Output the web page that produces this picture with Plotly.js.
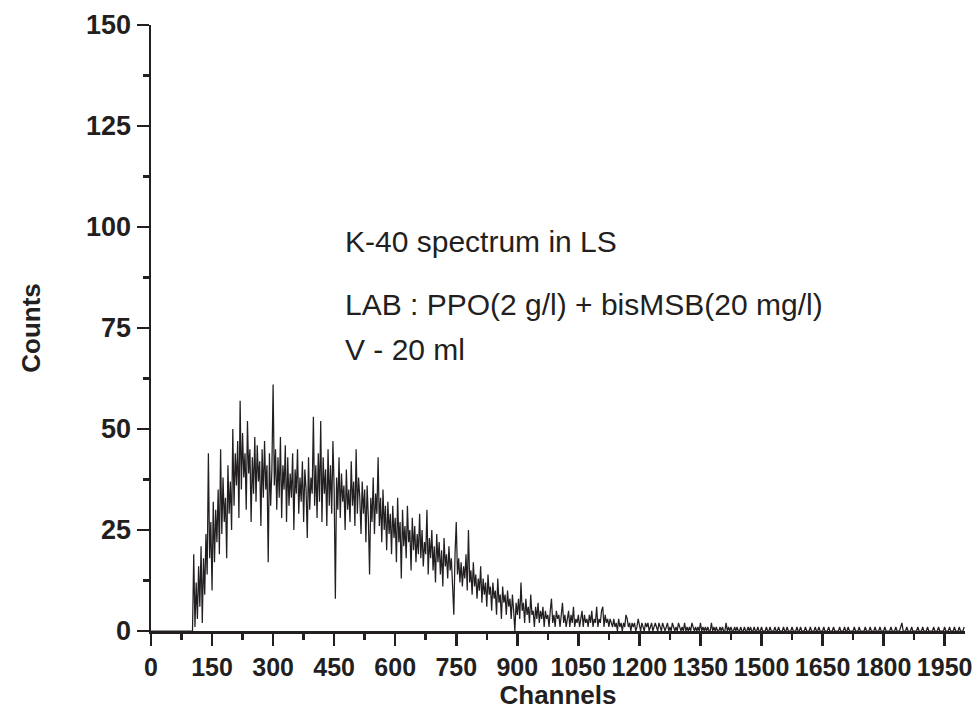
<!DOCTYPE html>
<html>
<head>
<meta charset="utf-8">
<script src="https://cdn.plot.ly/plotly-3.0.1.min.js"></script>
<style>html,body{margin:0;padding:0;background:#fff;}#chart{width:977px;height:721px;}</style>
</head>
<body>
<div id="chart"></div>
<script>
// Channel grid: every 3rd channel, starting at 0
var channelStep = 3;
// Counts (one value per 3 channels)
var countsLead = [0,0,0,0,0,0,0,0,0,0,0,0,0,0,0,0,0,0,0,0,0,0,0,0,0,0,0,0,0,0,0,0,0,0,0]; // ch 0-102
var countsRise = [
  19,1,12,3,16,6,21,2,18,9,24,14,44,18,27,10,32,17,30,22,        // ch 105-162
  35,19,45,24,38,27,33,18,41,29,37,25,50,31,44,36,47,28,57,35,   // ch 165-222
  49,38,44,30,52,39,45,27,43,34,48,32,46,37,42,26,45,33,47,35,   // ch 225-282
  41,17,44,31,40,61,36,45,30,43,33,48,28,41,35,46,27,43,31,39,   // ch 285-342
  33,44,25,40,34,45,29,38,32,42,27,40,35,23,43,30,38,34,53,31,   // ch 345-402
  41,28,44,32,52,27,43,34,40,26,45,31,41,29,47,35,8,38,30,43     // ch 405-462
];
var countsFall = [
  28,39,32,36,25,40,30,35,27,42,31,37,26,45,29,38,33,24,37,29,   // ch 465-522
  35,22,36,28,14,33,27,38,24,34,29,43,26,33,22,35,25,31,20,32,   // ch 525-582
  24,29,19,31,23,28,17,33,22,27,13,30,21,26,18,31,22,25,15,28,   // ch 585-642
  20,26,17,24,19,29,18,25,16,22,19,30,14,23,18,25,15,21,12,24,   // ch 645-702
  17,22,14,20,11,23,16,19,13,21,15,18,11,4,19,27,14,18,12,17,    // ch 705-762
  11,16,13,19,10,25,12,15,9,17,11,14,8,13,10,16,7,13,9,12,       // ch 765-822
  6,14,9,11,5,12,8,10,4,13,7,9,3,11,7,9,4,10,6,8,                // ch 825-882
  3,9,5,0,7,4,8,3,12,5,7,2,8,4,6,2,9,4,5,1                       // ch 885-942
];
var countsLow = [
  6,3,7,2,5,3,6,1,5,3,4,1,5,8,2,4,1,5,3,4,                       // ch 945-1002
  1,5,7,2,4,1,3,5,1,4,2,6,1,3,2,4,1,3,5,1,                       // ch 1005-1062
  4,2,3,1,4,2,5,1,3,2,6,1,3,2,5,6,1,4,2,3,                       // ch 1065-1122
  1,3,2,1,3,1,2,0,3,1,2,0,2,1,4,3,1,2,0,2,                       // ch 1125-1182
  1,2,0,1,3,1,0,2,1,0,2,1,2,0,1,2,0,1,2,1,                       // ch 1185-1242
  0,2,1,0,2,1,0,1,2,0,1,0,2,1,0,1,0,2,1,0                        // ch 1245-1302
];
var countsTail = [
  1,0,2,0,1,0,1,0,2,1,0,1,0,1,0,2,0,1,0,1,                       // ch 1305-1362
  0,1,0,0,2,0,1,0,1,0,0,1,0,1,0,0,2,0,1,0,                       // ch 1365-1422
  1,0,0,1,0,1,0,0,1,0,0,1,0,0,1,0,1,0,0,1,                       // ch 1425-1482
  0,0,1,0,0,1,0,0,0,1,0,0,1,0,0,0,1,0,0,1,                       // ch 1485-1542
  0,0,0,1,0,0,1,0,0,0,1,0,0,0,1,0,0,1,0,0,                       // ch 1545-1602
  0,1,0,0,0,1,0,0,0,1,0,0,1,0,0,0,1,0,0,0,                       // ch 1605-1662
  1,0,0,0,1,0,0,0,0,1,0,0,0,1,0,0,1,0,0,0,                       // ch 1665-1722
  0,1,0,0,0,1,0,0,0,0,1,0,0,0,1,0,0,0,1,0,                       // ch 1725-1782
  0,0,1,0,0,0,1,0,0,0,0,1,0,0,0,1,0,0,0,1,                       // ch 1785-1842
  2,0,0,0,1,0,0,0,1,0,0,0,0,1,0,0,0,1,0,0,                       // ch 1845-1902
  0,1,0,0,0,0,1,0,0,0,1,0,0,0,0,1,0,0,0,1,                       // ch 1905-1962
  0,0,0,1,0,0,0,1,0,0,0,1                                        // ch 1965-1998
];

var counts = [].concat(countsLead, countsRise, countsFall, countsLow, countsTail);
var channels = counts.map(function (_, i) { return i * channelStep; });

var xTickVals = [0,150,300,450,600,750,900,1050,1200,1350,1500,1650,1800,1950];
var yTickVals = [0,25,50,75,100,125,150];

var ink = '#231f20';
var fam = 'Liberation Sans, Arial, Helvetica, sans-serif';

var trace = {
  x: channels, y: counts, type: 'scatter', mode: 'lines',
  line: {color: ink, width: 1.25}, hoverinfo: 'skip'
};

var axisCommon = {
  showgrid: false, zeroline: false, showline: true, linecolor: ink, linewidth: 2.5,
  ticks: 'outside', ticklen: 12, tickwidth: 2.5, tickcolor: ink,
  tickmode: 'array'
};

var layout = {
  width: 977, height: 721,
  margin: {l: 151, r: 12, t: 25, b: 90},
  paper_bgcolor: '#fff', plot_bgcolor: '#fff',
  showlegend: false,
  xaxis: Object.assign({}, axisCommon, {
    range: [0, 2000], tickvals: xTickVals, ticktext: xTickVals.map(String),
    tickfont: {family: fam, size: 25, color: ink, weight: 'bold'},
    minor: {dtick: 75, tick0: 0, ticks: 'outside', ticklen: 6, tickwidth: 2.5, tickcolor: ink, showgrid: false},
    title: {text: 'Channels', font: {family: fam, size: 26, color: ink, weight: 'bold'}, standoff: 4}
  }),
  yaxis: Object.assign({}, axisCommon, {
    range: [0, 150], tickvals: yTickVals, ticktext: yTickVals.map(String),
    tickfont: {family: fam, size: 27, color: ink, weight: 'bold'},
    minor: {dtick: 12.5, tick0: 0, ticks: 'outside', ticklen: 6, tickwidth: 2.5, tickcolor: ink, showgrid: false},
    title: {text: 'Counts', font: {family: fam, size: 26, color: ink, weight: 'bold'}, standoff: 38}
  }),
  annotations: [
    {x: 472, y: 96.5, xref: 'x', yref: 'y', xanchor: 'left', yanchor: 'middle', showarrow: false,
     text: 'K-40 spectrum in LS', font: {family: fam, size: 30, color: ink}},
    {x: 472, y: 80.7, xref: 'x', yref: 'y', xanchor: 'left', yanchor: 'middle', showarrow: false,
     text: 'LAB : PPO(2 g/l) + bisMSB(20 mg/l)', font: {family: fam, size: 30, color: ink}},
    {x: 472, y: 69.6, xref: 'x', yref: 'y', xanchor: 'left', yanchor: 'middle', showarrow: false,
     text: 'V - 20 ml', font: {family: fam, size: 30, color: ink}}
  ]
};

Plotly.newPlot('chart', [trace], layout, {staticPlot: true, displayModeBar: false});
</script>
</body>
</html>
